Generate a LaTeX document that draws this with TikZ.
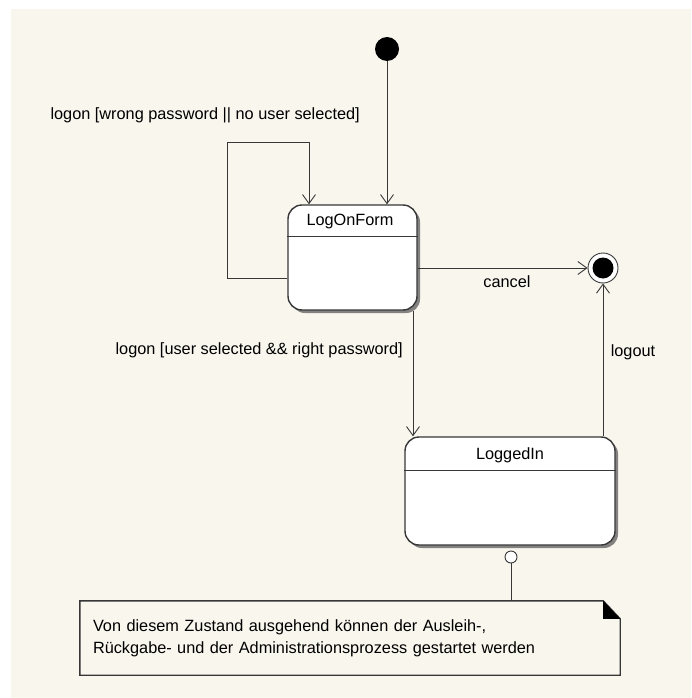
\documentclass[tikz,border=0pt]{standalone}
\usepackage{fontspec}
\setmainfont{Liberation Sans}
\usetikzlibrary{arrows.meta, shadows, backgrounds, calc, positioning}
\definecolor{UMLCreme}{RGB}{249,246,238}
\definecolor{UMLLinie}{RGB}{55,55,55}

\begin{document}
\begin{tikzpicture}[x=1pt, y=-1pt,
    zustand/.style={shape=rectangle, rounded corners=14pt, draw=UMLLinie, line width=1.4pt, fill=white,
        drop shadow={shadow xshift=3pt, shadow yshift=-3pt, fill=black!60, opacity=0.8}},
    start/.style={shape=circle, fill=black, minimum size=24pt, inner sep=0pt},
    ende/.style={shape=circle, draw=UMLLinie, line width=0.9pt, fill=white, minimum size=30pt, inner sep=0pt,
        path picture={\fill[black] (path picture bounding box.center) circle (10.5pt);}},
    trans/.style={draw=UMLLinie, line width=0.9pt, -{Straight Barb[length=9pt, width=13pt]}},
    beschr/.style={font=\fontsize{16.3}{20}\selectfont, inner sep=0pt},
    notiz/.style={minimum width=540pt, minimum height=74pt, text width=514pt, align=left, inner sep=0pt,
        font=\fontsize{16.3}{22}\selectfont},
]
    \useasboundingbox (0,0) rectangle (691,698);
    \fill[white] (0,0) rectangle (691,698);
    \fill[UMLCreme] (11,9) rectangle (691,698);

    \node[start]                                   (start)    at (387, 49)  {};
    \node[zustand, minimum width=129pt, minimum height=105pt] (logon)    at (352.5,257.5) {};
    \node[zustand, minimum width=210pt, minimum height=108pt] (loggedin) at (510,491) {};
    \node[ende]                                    (ende)     at (603,268)  {};
    \node[shape=circle, draw=UMLLinie, line width=0.9pt, fill=white, minimum size=12pt, inner sep=0pt] (anker) at (511,557) {};
    \node[notiz] (notiz) at (350,638) {Von diesem Zustand ausgehend können der Ausleih-,\\Rückgabe- und der Administrationsprozess gestartet werden};

    \begin{scope}[on background layer]
        \fill[white] (notiz.south west) -- (notiz.north west) -- ([xshift=-17pt]notiz.north east)
            -- ([yshift=-18pt]notiz.north east) -- (notiz.south east) -- cycle;
    \end{scope}
    \draw[UMLLinie, line width=1.4pt, line join=miter] (notiz.south west) -- (notiz.north west) -- ([xshift=-17pt]notiz.north east)
        -- ([yshift=-18pt]notiz.north east) -- (notiz.south east) -- cycle;
    \fill[black] ([xshift=-17pt]notiz.north east) -- ([yshift=-18pt]notiz.north east)
        -- ([xshift=-17pt, yshift=-18pt]notiz.north east) -- cycle;

    \draw[UMLLinie, line width=1pt] ([yshift=-32pt]logon.north west) -- ([yshift=-32pt]logon.north east);
    \draw[UMLLinie, line width=1pt] ([yshift=-34pt]loggedin.north west) -- ([yshift=-34pt]loggedin.north east);
    \node[beschr] (logonName)    at (350,221) {LogOnForm};
    \node[beschr] (loggedinName) at (510,455) {LoggedIn};

    \draw[trans] (start) -- (start |- logon.north);
    \draw[trans] ([yshift=-20.5pt]logon.west) -| (227,142) -| ([xshift=-43.5pt]logon.north);
    \draw[trans] ([yshift=-10.5pt]logon.east) -- (ende);
    \draw[trans] ([xshift=60.5pt]logon.south) -- ([xshift=60.5pt]logon.south |- loggedin.north);
    \draw[trans] (ende.south |- loggedin.north) -- (ende);
    \draw[UMLLinie, line width=0.9pt] (anker.south) -- (anker.south |- notiz.north);

    \node[beschr, anchor=east] (lblSelbst) at (360,115) {logon [wrong password || no user selected]};
    \node[beschr] (lblCancel) at (507,282) {cancel};
    \node[beschr, anchor=east] (lblLogon)  at (403,350) {logon [user selected \&\& right password]};
    \node[beschr] (lblLogout) at (633,352) {logout};
\end{tikzpicture}
\end{document}
